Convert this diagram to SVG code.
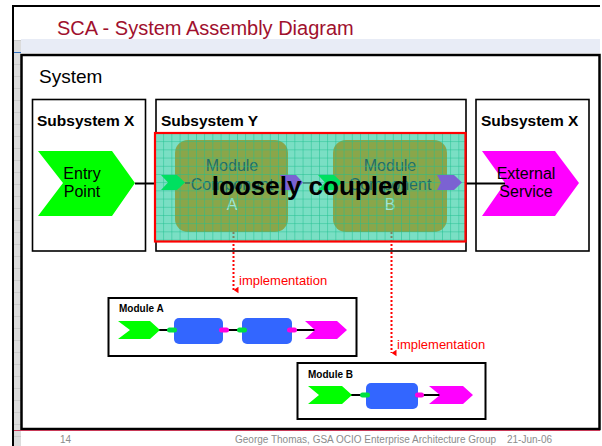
<svg xmlns="http://www.w3.org/2000/svg" width="602" height="446" viewBox="0 0 602 446">
<style>
.t{font-family:"Liberation Sans",Arial,sans-serif}
.box{fill:#fff;stroke:#000;stroke-width:1.6}
.sub{font-family:"Liberation Sans",Arial,sans-serif;font-weight:bold;font-size:15.5px;fill:#000}
.lbl{font-family:"Liberation Sans",Arial,sans-serif;font-size:16px;fill:#000;text-anchor:middle}
.mod{font-family:"Liberation Sans",Arial,sans-serif;font-size:16px;text-anchor:middle}
.wire{stroke:#000;stroke-width:2;fill:none}
.dotr{stroke:#ff0000;stroke-width:2;stroke-dasharray:2 2;fill:none}
.dotg{stroke:#808060;stroke-width:2;stroke-dasharray:2 2;fill:none}
.impl{font-family:"Liberation Sans",Arial,sans-serif;font-size:13px;fill:#ff0000}
.mb{font-family:"Liberation Sans",Arial,sans-serif;font-weight:bold;font-size:10px;fill:#000}
.blue{fill:#3366ff}
.grn{fill:#00ff00}
.mag{fill:#ff00ff}
.foot{font-family:"Liberation Sans",Arial,sans-serif;font-size:10px;fill:#8c8c8c}
</style>
<defs>
<pattern id="grid" patternUnits="userSpaceOnUse" x="155" y="133" width="8.2" height="8.2">
<path d="M0 0H8.2M0 0V8.2" stroke="#20c090" stroke-width="1" fill="none"/>
</pattern>
<pattern id="strip" patternUnits="userSpaceOnUse" x="0" y="40" width="6" height="12">
<rect width="6" height="12" fill="#dcdcdc"/>
<path d="M0 0H6" stroke="#b8b8b8" stroke-width="1"/>
</pattern>
<marker id="ah" viewBox="0 0 8 6" refX="4" refY="6" markerWidth="7" markerHeight="5" orient="auto-start-reverse" markerUnits="userSpaceOnUse">
<path d="M0 0L8 0L4 6Z" fill="#ff0000"/>
</marker>
</defs>
<rect width="602" height="446" fill="#fff"/>
<g id="frame">
<rect x="14" y="40" width="7" height="406" fill="url(#strip)"/>
<rect x="21" y="39" width="579" height="14" fill="#e8ecf6"/>
<line x1="14" y1="52.5" x2="21" y2="52.5" stroke="#3070c0" stroke-width="1"/>
<path d="M13 446V6H600" fill="none" stroke="#000" stroke-width="2"/>
<text class="t" x="57" y="35" font-size="20" fill="#a0102e">SCA - System Assembly Diagram</text>
</g>
<g id="system">
<rect x="21.5" y="55" width="578" height="374" fill="#fff" stroke="#000" stroke-width="2.5"/>
<line x1="14" y1="430.5" x2="600" y2="430.5" stroke="#c83a58" stroke-width="1"/>
<text class="t" x="39" y="83" font-size="19" fill="#000">System</text>
</g>
<g id="subsystem-x-left">
<rect class="box" x="32.5" y="99.5" width="113" height="151.5"/>
<text class="sub" x="37" y="126">Subsystem X</text>
</g>
<g id="subsystem-y">
<rect class="box" x="156" y="99.5" width="310" height="151.5"/>
<text class="sub" x="161" y="126">Subsystem Y</text>
</g>
<g id="subsystem-x-right">
<rect class="box" x="476" y="99.5" width="113" height="151.5"/>
<text class="sub" x="481" y="126">Subsystem X</text>
</g>
<g id="entry-point">
<polygon class="grn" points="38,151 112,151 135,183 112,216 38,216 63,183"/>
<text class="lbl" x="82" y="179">Entry</text>
<text class="lbl" x="82" y="197">Point</text>
</g>
<g id="external-service">
<polygon class="mag" points="482,151 555,151 579,183 555,216 482,216 505,183"/>
<text class="lbl" x="526" y="179">External</text>
<text class="lbl" x="526" y="197">Service</text>
</g>
<g id="connectors">
<line class="wire" x1="135" y1="183.5" x2="162" y2="183.5"/>
<line class="wire" x1="460" y1="183.5" x2="505" y2="183.5"/>
<line class="dotr" x1="233.5" y1="244" x2="233.5" y2="290" marker-end="url(#ah)"/>
<line class="dotr" x1="391.5" y1="244" x2="391.5" y2="353" marker-end="url(#ah)"/>
</g>
<g id="loosely-coupled">
<rect x="155" y="133" width="310.5" height="108.5" fill="#7adfc4"/>
<g id="module-component-a">
<rect x="175" y="140" width="113" height="92" rx="13" fill="#8aa64a"/>
<text class="mod" x="232" y="171" fill="#1e6e6a">Module</text>
<text class="mod" x="232" y="190" fill="#1e6e6a">Component</text>
<text class="mod" x="232" y="210" fill="#a0e6d6">A</text>
</g>
<g id="module-component-b">
<rect x="333" y="140" width="114" height="92" rx="13" fill="#8aa64a"/>
<text class="mod" x="390" y="171" fill="#1e6e6a">Module</text>
<text class="mod" x="390" y="190" fill="#1e6e6a">Component</text>
<text class="mod" x="390" y="210" fill="#a0e6d6">B</text>
</g>
<rect x="155" y="133" width="310.5" height="108.5" fill="url(#grid)"/>
<line x1="303" y1="183" x2="318" y2="183" stroke="#205050" stroke-width="1"/>
<line x1="185" y1="183" x2="190" y2="183" stroke="#205050" stroke-width="1"/>
<polygon points="161,175 177,175 185,182.5 177,190 161,190 168,182.5" fill="#00e060"/>
<polygon points="280,175 296,175 303,182.5 296,190 280,190 284,182.5" fill="#7b62d2"/>
<polygon points="318,175 334,175 342,182.5 334,190 318,190 325,182.5" fill="#00e060"/>
<polygon points="437,175 454,175 462,182.5 454,190 437,190 441,182.5" fill="#7b62d2"/>
<line class="dotg" x1="233.5" y1="232" x2="233.5" y2="241"/>
<line class="dotg" x1="391.5" y1="232" x2="391.5" y2="241"/>
<text class="t" x="310" y="195" font-size="26" font-weight="bold" fill="#000" text-anchor="middle">loosely coupled</text>
<rect x="155" y="133" width="310.5" height="108.5" fill="none" stroke="#ff0000" stroke-width="2.2"/>
</g>
<text class="impl" x="239" y="285">implementation</text>
<text class="impl" x="397" y="349">implementation</text>
<g id="module-a">
<rect x="108.5" y="298" width="248" height="58" fill="#fff" stroke="#000" stroke-width="2"/>
<text class="mb" x="119" y="312">Module A</text>
<line class="wire" x1="158" y1="330" x2="169" y2="330"/>
<line class="wire" x1="228" y1="330" x2="238" y2="330"/>
<line class="wire" x1="296" y1="330" x2="315" y2="330"/>
<polygon class="grn" points="118,321 150,321 160,330 150,339 118,339 130,330"/>
<rect class="blue" x="174" y="318" width="49" height="26" rx="5"/>
<rect class="blue" x="242" y="318" width="50" height="26" rx="5"/>
<rect x="167" y="327.5" width="10" height="5" rx="2.5" fill="#00e040"/>
<rect x="219" y="327.5" width="10" height="5" rx="2.5" fill="#ff00e0"/>
<rect x="237" y="327.5" width="10" height="5" rx="2.5" fill="#00e040"/>
<rect x="287" y="327.5" width="10" height="5" rx="2.5" fill="#ff00e0"/>
<polygon class="mag" points="305,321 337,321 347,330 337,339 305,339 315,330"/>
</g>
<g id="module-b">
<rect x="297.5" y="363" width="188" height="56" fill="#fff" stroke="#000" stroke-width="2"/>
<text class="mb" x="308" y="378">Module B</text>
<line class="wire" x1="350" y1="395" x2="361" y2="395"/>
<line class="wire" x1="423" y1="395" x2="440" y2="395"/>
<polygon class="grn" points="308,386 342,386 352,395 342,404 308,404 319,395"/>
<rect class="blue" x="366" y="383" width="52" height="26" rx="5"/>
<rect x="360" y="392.5" width="10" height="5" rx="2.5" fill="#00e040"/>
<rect x="415" y="392.5" width="9" height="5" rx="2.5" fill="#ff00e0"/>
<polygon class="mag" points="429,386 463,386 473,395 463,404 429,404 440,395"/>
</g>
<g id="footer">
<text class="foot" x="60" y="443">14</text>
<text class="foot" x="235" y="443">George Thomas, GSA OCIO Enterprise Architecture Group</text>
<text class="foot" x="507" y="443">21-Jun-06</text>
</g>
</svg>
